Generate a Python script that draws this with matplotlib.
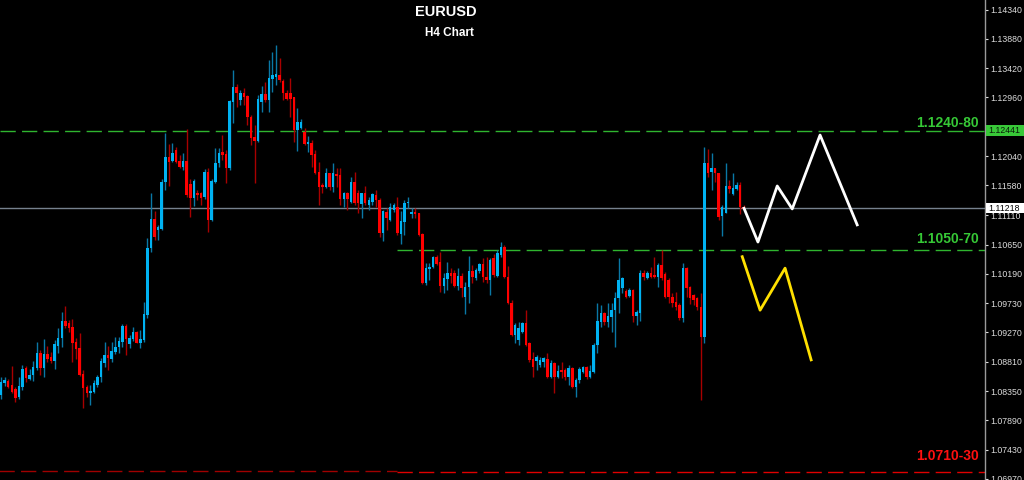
import matplotlib.pyplot as plt
from matplotlib.patches import Rectangle
from matplotlib import transforms

plt.rcParams['font.family'] = ['Liberation Sans', 'DejaVu Sans']

# EURUSD H4 candles (oldest -> newest)
opens = [
    1.0829, 1.0848, 1.0851, 1.0845, 1.0838, 1.0826, 1.0841, 1.0871, 1.0854, 1.0860,
    1.0871, 1.0895, 1.0871, 1.0893, 1.0889, 1.0882, 1.0906, 1.0918, 1.0945, 1.0942,
    1.0936, 1.0912, 1.0903, 1.0862, 1.0841, 1.0832, 1.0834, 1.0845, 1.0857, 1.0879,
    1.0892, 1.0885, 1.0896, 1.0904, 1.0912, 1.0937, 1.0909, 1.0917, 1.0928, 1.0910,
    1.0915, 1.0954, 1.1060, 1.1105, 1.1088, 1.1090, 1.1163, 1.1203, 1.1196, 1.1214,
    1.1196, 1.1187, 1.1196, 1.1160, 1.1138, 1.1146, 1.1146, 1.1140, 1.1179, 1.1104,
    1.1163, 1.1193, 1.1210, 1.1207, 1.1185, 1.1289, 1.1312, 1.1292, 1.1303, 1.1298,
    1.1265, 1.1234, 1.1228, 1.1289, 1.1301, 1.1292, 1.1325, 1.1328, 1.1331, 1.1322,
    1.1303, 1.1303, 1.1297, 1.1245, 1.1248, 1.1242, 1.1223, 1.1224, 1.1207, 1.1179,
    1.1159, 1.1155, 1.1177, 1.1155, 1.1176, 1.1174, 1.1137, 1.1146, 1.1132, 1.1163,
    1.1146, 1.1129, 1.1146, 1.1127, 1.1132, 1.1143, 1.1135, 1.1083, 1.1116, 1.1104,
    1.1119, 1.1124, 1.1082, 1.1100, 1.1130, 1.1113, 1.1116, 1.1115, 1.1082, 1.1005,
    1.1027, 1.1030, 1.1046, 1.1038, 1.1000, 1.1011, 1.1020, 1.1020, 1.1000, 1.1016,
    1.0983, 1.0998, 1.1024, 1.1013, 1.1024, 1.1035, 1.1014, 1.1009, 1.1044, 1.1016,
    1.1049, 1.1061, 1.1014, 1.0973, 1.0923, 1.0915, 1.0928, 1.0942, 1.0910, 1.0885,
    1.0882, 1.0876, 1.0881, 1.0885, 1.0857, 1.0879, 1.0857, 1.0868, 1.0868, 1.0857,
    1.0871, 1.0841, 1.0852, 1.0865, 1.0873, 1.0857, 1.0865, 1.0907, 1.0943, 1.0958,
    1.0943, 1.0951, 1.0962, 1.0981, 1.0997, 1.0992, 1.0984, 1.0994, 1.0953, 1.0958,
    1.1020, 1.1013, 1.1020, 1.1017, 1.1014, 1.1033, 1.1019, 1.1009, 1.0983, 1.0975,
    1.0970, 1.0950, 1.1028, 1.0998, 1.0986, 1.0981, 1.0967, 1.0920, 1.1193, 1.1179,
    1.1185, 1.1177, 1.1110, 1.1115, 1.1157, 1.1144, 1.1152, 1.1159, 1.1124,
]
closes = [
    1.0849, 1.0852, 1.0841, 1.0834, 1.0824, 1.0843, 1.0870, 1.0856, 1.0860, 1.0873,
    1.0895, 1.0871, 1.0893, 1.0885, 1.0882, 1.0909, 1.0918, 1.0945, 1.0937, 1.0934,
    1.0910, 1.0901, 1.0860, 1.0840, 1.0832, 1.0835, 1.0848, 1.0857, 1.0882, 1.0892,
    1.0887, 1.0898, 1.0904, 1.0914, 1.0937, 1.0917, 1.0918, 1.0928, 1.0910, 1.0917,
    1.0956, 1.1060, 1.1105, 1.1077, 1.1093, 1.1163, 1.1203, 1.1195, 1.1209, 1.1195,
    1.1187, 1.1196, 1.1143, 1.1138, 1.1165, 1.1143, 1.1138, 1.1179, 1.1104, 1.1165,
    1.1193, 1.1209, 1.1206, 1.1185, 1.1290, 1.1312, 1.1303, 1.1303, 1.1297, 1.1265,
    1.1232, 1.1228, 1.1294, 1.1301, 1.1292, 1.1327, 1.1331, 1.1333, 1.1323, 1.1303,
    1.1294, 1.1294, 1.1245, 1.1257, 1.1257, 1.1223, 1.1226, 1.1206, 1.1177, 1.1155,
    1.1155, 1.1177, 1.1155, 1.1177, 1.1173, 1.1137, 1.1146, 1.1137, 1.1163, 1.1130,
    1.1130, 1.1146, 1.1130, 1.1135, 1.1144, 1.1135, 1.1083, 1.1118, 1.1107, 1.1124,
    1.1127, 1.1083, 1.1102, 1.1130, 1.1132, 1.1116, 1.1113, 1.1080, 1.1005, 1.1028,
    1.1030, 1.1046, 1.1035, 1.1000, 1.1013, 1.1020, 1.1016, 1.1000, 1.1016, 1.0997,
    1.0998, 1.1024, 1.1014, 1.1025, 1.1035, 1.1014, 1.1009, 1.1041, 1.1017, 1.1052,
    1.1061, 1.1014, 1.0973, 1.0923, 1.0939, 1.0934, 1.0942, 1.0907, 1.0884, 1.0873,
    1.0889, 1.0884, 1.0887, 1.0857, 1.0879, 1.0857, 1.0867, 1.0865, 1.0857, 1.0871,
    1.0841, 1.0852, 1.0870, 1.0873, 1.0857, 1.0867, 1.0907, 1.0945, 1.0958, 1.0943,
    1.0953, 1.0962, 1.0981, 1.1009, 1.1013, 1.0983, 1.0994, 1.0953, 1.0959, 1.1020,
    1.1014, 1.1020, 1.1014, 1.1014, 1.1033, 1.1013, 1.0983, 1.0983, 1.0973, 1.0967,
    1.0950, 1.1028, 1.0997, 1.0981, 1.0978, 1.0967, 1.0920, 1.1193, 1.1177, 1.1185,
    1.1177, 1.1108, 1.1124, 1.1157, 1.1152, 1.1154, 1.1159, 1.1124, 1.1121,
]
highs = [
    1.0857, 1.0857, 1.0854, 1.0874, 1.0841, 1.0857, 1.0876, 1.0874, 1.0870, 1.0882,
    1.0912, 1.0900, 1.0917, 1.0906, 1.0896, 1.0915, 1.0934, 1.0959, 1.0969, 1.0947,
    1.0948, 1.0918, 1.0926, 1.0868, 1.0845, 1.0845, 1.0852, 1.0860, 1.0887, 1.0912,
    1.0906, 1.0912, 1.0920, 1.0920, 1.0940, 1.0940, 1.0923, 1.0936, 1.0929, 1.0931,
    1.0975, 1.1075, 1.1146, 1.1118, 1.1096, 1.1168, 1.1240, 1.1223, 1.1224, 1.1218,
    1.1206, 1.1209, 1.1247, 1.1168, 1.1168, 1.1151, 1.1148, 1.1184, 1.1185, 1.1168,
    1.1217, 1.1217, 1.1237, 1.1214, 1.1292, 1.1339, 1.1317, 1.1308, 1.1311, 1.1300,
    1.1268, 1.1253, 1.1300, 1.1314, 1.1320, 1.1355, 1.1367, 1.1378, 1.1358, 1.1325,
    1.1308, 1.1327, 1.1297, 1.1279, 1.1262, 1.1248, 1.1235, 1.1229, 1.1214, 1.1195,
    1.1162, 1.1185, 1.1177, 1.1193, 1.1185, 1.1185, 1.1148, 1.1148, 1.1171, 1.1179,
    1.1151, 1.1146, 1.1157, 1.1140, 1.1146, 1.1151, 1.1138, 1.1119, 1.1122, 1.1130,
    1.1130, 1.1140, 1.1118, 1.1135, 1.1140, 1.1122, 1.1122, 1.1115, 1.1083, 1.1036,
    1.1036, 1.1047, 1.1049, 1.1053, 1.1020, 1.1038, 1.1028, 1.1025, 1.1028, 1.1020,
    1.1006, 1.1047, 1.1033, 1.1028, 1.1036, 1.1044, 1.1046, 1.1044, 1.1050, 1.1057,
    1.1069, 1.1064, 1.1031, 1.0978, 1.0942, 1.0943, 1.0943, 1.0962, 1.0912, 1.0896,
    1.0892, 1.0889, 1.0889, 1.0895, 1.0884, 1.0881, 1.0876, 1.0881, 1.0871, 1.0876,
    1.0873, 1.0855, 1.0873, 1.0874, 1.0874, 1.0876, 1.0910, 1.0973, 1.0970, 1.0959,
    1.0973, 1.0973, 1.0991, 1.1044, 1.1014, 1.0995, 1.0997, 1.0995, 1.0962, 1.1025,
    1.1025, 1.1024, 1.1030, 1.1046, 1.1036, 1.1057, 1.1022, 1.1013, 1.0989, 1.0991,
    1.0973, 1.1036, 1.1030, 1.1000, 1.0987, 1.0983, 1.0989, 1.1218, 1.1215, 1.1209,
    1.1185, 1.1177, 1.1127, 1.1193, 1.1166, 1.1177, 1.1163, 1.1163, 1.1127,
]
lows = [
    1.0823, 1.0843, 1.0840, 1.0832, 1.0818, 1.0823, 1.0837, 1.0849, 1.0852, 1.0851,
    1.0868, 1.0860, 1.0857, 1.0881, 1.0879, 1.0870, 1.0895, 1.0904, 1.0934, 1.0928,
    1.0881, 1.0885, 1.0859, 1.0808, 1.0826, 1.0813, 1.0832, 1.0841, 1.0849, 1.0873,
    1.0868, 1.0881, 1.0893, 1.0895, 1.0904, 1.0892, 1.0903, 1.0914, 1.0910, 1.0903,
    1.0912, 1.0950, 1.1053, 1.1072, 1.1072, 1.1088, 1.1151, 1.1157, 1.1195, 1.1193,
    1.1185, 1.1182, 1.1140, 1.1108, 1.1126, 1.1135, 1.1127, 1.1137, 1.1085, 1.1102,
    1.1162, 1.1187, 1.1198, 1.1162, 1.1182, 1.1256, 1.1281, 1.1284, 1.1284, 1.1253,
    1.1221, 1.1162, 1.1226, 1.1273, 1.1289, 1.1273, 1.1305, 1.1316, 1.1320, 1.1292,
    1.1292, 1.1265, 1.1226, 1.1212, 1.1246, 1.1221, 1.1210, 1.1187, 1.1176, 1.1127,
    1.1146, 1.1154, 1.1151, 1.1148, 1.1155, 1.1127, 1.1124, 1.1119, 1.1130, 1.1127,
    1.1115, 1.1107, 1.1127, 1.1119, 1.1127, 1.1124, 1.1077, 1.1071, 1.1088, 1.1102,
    1.1116, 1.1080, 1.1066, 1.1080, 1.1122, 1.1107, 1.1107, 1.1078, 1.1003, 1.1002,
    1.1009, 1.1028, 1.1033, 1.0991, 1.0989, 1.0994, 1.1005, 1.0998, 1.0994, 1.0983,
    1.0956, 1.0973, 1.1005, 1.1009, 1.1020, 1.1006, 1.1005, 1.0986, 1.1014, 1.1014,
    1.1046, 1.1013, 1.0972, 1.0922, 1.0910, 1.0907, 1.0926, 1.0906, 1.0881, 1.0857,
    1.0868, 1.0873, 1.0873, 1.0856, 1.0856, 1.0832, 1.0856, 1.0856, 1.0852, 1.0845,
    1.0840, 1.0826, 1.0848, 1.0863, 1.0854, 1.0856, 1.0863, 1.0895, 1.0936, 1.0939,
    1.0936, 1.0928, 1.0904, 1.0958, 1.0989, 1.0981, 1.0983, 1.0943, 1.0939, 1.0945,
    1.1009, 1.1011, 1.1013, 1.1013, 1.0998, 1.1009, 1.0981, 1.0973, 1.0967, 1.0962,
    1.0947, 1.0943, 1.0983, 1.0972, 1.0970, 1.0962, 1.0821, 1.0910, 1.1171, 1.1151,
    1.1163, 1.1104, 1.1078, 1.1115, 1.1146, 1.1143, 1.1151, 1.1113, 1.1119,
]

# projected paths (x in bar units, y in price)
white_x = [208.1, 212.0, 217.4, 221.6, 229.4, 239.8]
white_y = [1.1122, 1.1069, 1.1157, 1.1121, 1.1237, 1.1096]
yellow_x = [207.6, 212.6, 219.6, 226.9]
yellow_y = [1.1046, 1.0962, 1.1028, 1.0884]

# levels
res_level = 1.12441
sup_level = 1.1057
low_level = 1.0708
last_price = 1.11218
zone_start = 111

# 1.12500 sits under the green price box in the original, so it is left out
price_ticks = [1.14340, 1.13880, 1.13420, 1.12960, 1.12040, 1.11580, 1.11110,
               1.10650, 1.10190, 1.09730, 1.09270, 1.08810, 1.08350, 1.07890, 1.07430,
               1.06970]

UP_BODY, UP_WICK = '#00b2f2', '#0a78a6'
DN_BODY, DN_WICK = '#ff0000', '#a80000'

fig = plt.figure(figsize=(10.24, 4.8), dpi=100, facecolor='black')
ax = fig.add_axes([0, 0, 985 / 1024, 1])
ax.set_facecolor('black')

xs = list(range(len(closes)))
for i in xs:
    o, c = opens[i], closes[i]
    bull = c >= o
    ax.vlines(i, lows[i], highs[i], color=UP_WICK if bull else DN_WICK, lw=1, zorder=2)
    ax.bar(i, max(abs(c - o), 0.00012), bottom=min(o, c), width=0.7,
           color=UP_BODY if bull else DN_BODY, linewidth=0, zorder=3)

# horizontal levels
ax.axhline(res_level, color='#2fb52f', lw=1, dashes=(11, 4.5), zorder=1)
ax.hlines(sup_level, zone_start, 276, color='#2fb52f', lw=1, linestyles=(0, (11, 4.5)), zorder=1)
ax.hlines(low_level + 0.0002, -1, zone_start, color='#a00000', lw=1, linestyles=(0, (11, 4.5)), zorder=1)
ax.hlines(low_level, zone_start, 276, color='#e00000', lw=1, linestyles=(0, (11, 4.5)), zorder=1)
ax.axhline(last_price, color='#76818e', lw=1, zorder=1)

ax.plot(white_x, white_y, color='white', lw=2, zorder=4)
ax.plot(yellow_x, yellow_y, color='#ffe000', lw=2, zorder=4)

lbl = transforms.blended_transform_factory(ax.transAxes, ax.transData)
ax.text(0.994, 1.12559, '1.1240-80', transform=lbl, ha='right', va='center',
        color='#36c836', fontsize=10, fontweight='bold')
ax.text(0.994, 1.10738, '1.1050-70', transform=lbl, ha='right', va='center',
        color='#36c836', fontsize=10, fontweight='bold')
ax.text(0.994, 1.07331, '1.0710-30', transform=lbl, ha='right', va='center',
        color='#ff1010', fontsize=10, fontweight='bold')

ax.set_xlim(-0.3, 275.6)
ax.set_ylim(1.06954, 1.1449)
ax.set_xticks([])
ax.yaxis.tick_right()
ax.set_yticks(price_ticks)
ax.set_yticklabels(['%.5f' % t for t in price_ticks])
ax.tick_params(axis='y', colors='#dcdcdc', labelsize=6.3, length=2.5, width=0.8, pad=1.5)
for s in ['top', 'left', 'bottom']:
    ax.spines[s].set_visible(False)
ax.spines['right'].set_color('#9a9a9a')
ax.spines['right'].set_linewidth(1)

# price boxes on the axis
box = transforms.blended_transform_factory(fig.transFigure, ax.transData)
ax.add_patch(Rectangle((986 / 1024, res_level - 0.00085), 38 / 1024, 0.0017,
                       transform=box, facecolor='#38c838', edgecolor='none',
                       clip_on=False, zorder=5))
ax.text(988 / 1024, res_level, '1.12441', transform=box, ha='left', va='center',
        fontsize=6.3, color='#0a1a0a', zorder=6, clip_on=False)
ax.add_patch(Rectangle((986 / 1024, last_price - 0.00078), 38 / 1024, 0.00156,
                       transform=box, facecolor='white', edgecolor='none',
                       clip_on=False, zorder=5))
ax.text(988 / 1024, last_price, '1.11218', transform=box, ha='left', va='center',
        fontsize=6.3, color='black', zorder=6, clip_on=False)

fig.text(446 / 1024, 1 - 12.5 / 480, 'EURUSD', ha='center', va='center',
         color='white', fontsize=10.5, fontweight='bold')
fig.text(449 / 1024, 1 - 33.5 / 480, 'H4 Chart', ha='center', va='center',
         color='white', fontsize=8.5, fontweight='bold')

fig.savefig('out.png', dpi=100, facecolor='black')
